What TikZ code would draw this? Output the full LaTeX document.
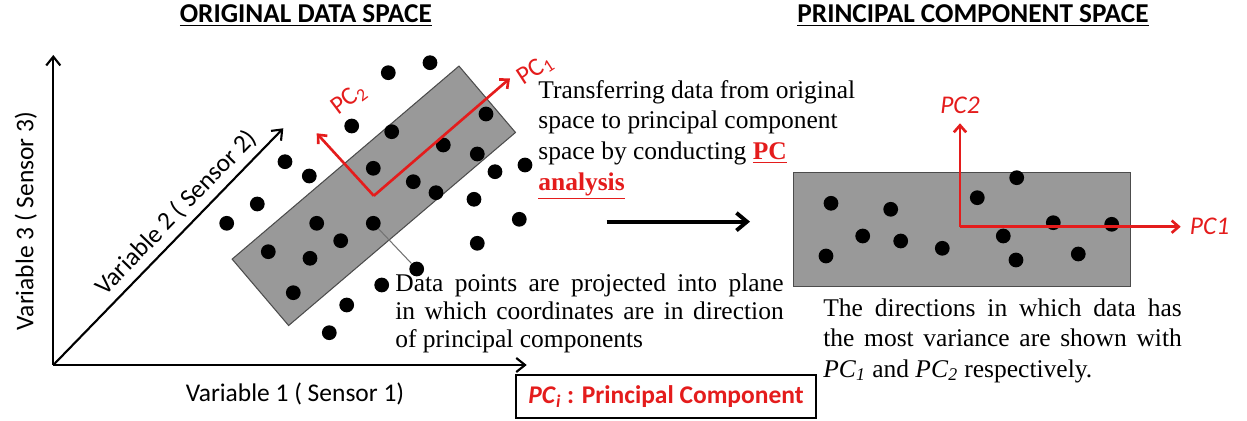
\documentclass[tikz,border=0pt]{standalone}
\usepackage{fontspec}
\setmainfont{Liberation Serif}
\setsansfont{Carlito}
\usepackage{xcolor}
\usepackage{tikz}
\usetikzlibrary{positioning,calc,arrows.meta}
\definecolor{pcred}{RGB}{228,28,28}

\begin{document}
\begin{tikzpicture}[x=0.2mm, y=-0.2mm,
    dot/.style={circle, fill=black, inner sep=0pt, minimum size=8.4pt},
    axis/.style={line width=1.2pt, -{Straight Barb[length=5pt,width=8pt]}},
    pcarrow/.style={pcred, line width=1.5pt, -{Straight Barb[length=4pt,width=7pt]}},
    plane/.style={draw=black!70, fill=black!40, line width=0.6pt},
    pclabel/.style={text=pcred, inner sep=2pt, font=\sffamily\fontsize{14.5}{17}\selectfont},
    title/.style={anchor=base, font=\sffamily\bfseries\fontsize{15.5}{18}\selectfont},
    varlabel/.style={font=\sffamily\fontsize{14.5}{17}\selectfont},
    note/.style={align=left, inner sep=0pt, anchor=north west, font=\fontsize{14.5}{17.4}\selectfont}]

    \useasboundingbox (0,0) rectangle (1247,421);

    % Titles
    \node[title] (tleft) at (305.8,23) {\underline{ORIGINAL DATA SPACE}};
    \node[title] (tright) at (973,23) {\underline{PRINCIPAL COMPONENT SPACE}};

    % Axes of the original space
    \coordinate (o) at (53.3,365);
    \coordinate (v1) at (526.7,365);
    \coordinate (v2) at (283.3,128.3);
    \coordinate (v3) at (53.3,55);
    \draw[axis] (o) -- (v1);
    \draw[axis] (o) -- (v3);
    \draw[axis] (o) -- (v2) node[varlabel, pos=0.59, sloped, above] (v2lab) {Variable 2 ( Sensor 2)};
    \node[varlabel, anchor=base] (v1lab) at (295,401.7) {Variable 1 ( Sensor 1)};
    \node[varlabel, anchor=base, rotate=90] (v3lab) at (33.3,221) {Variable 3 ( Sensor 3)};

    % Projection plane
    \node[plane, minimum width=169.5pt, minimum height=49.6pt, rotate=40.4] (plane) at (373.8,195.8) {};

    % Data points
    \foreach \px/\py [count=\i] in {430/62.7, 388.3/72.7, 486/114, 351.7/126, 391.7/131.7,
        443.3/145, 477.3/154, 285/161.7, 373.3/168.3, 525/165, 495/171.7, 309.3/176,
        413.3/181.7, 436/192.7, 257.3/204, 474/199.3, 226.7/223.3, 316.7/223.3,
        373.3/223.3, 519.3/219.3, 340.7/240.7, 477.3/243.3, 268.3/251.7, 310/258.3,
        416.7/269, 381.7/285, 293.3/292.7, 346.7/305, 329.3/332.7} {
        \node[dot] (d\i) at (\px,\py) {};
    }
    \draw[black!55, line width=0.6pt] (d19) -- (d25);

    % Principal axes in the original space
    \coordinate (pc1tip) at (510,78.3);
    \coordinate (pc2tip) at (316.7,133.3);
    \draw[pcarrow] (plane.center) -- (pc1tip);
    \draw[pcarrow] (plane.center) -- (pc2tip);
    \node[pclabel, rotate=33] (pc1lab) at (535.6,70) {PC\textsubscript{1}};
    \node[pclabel, rotate=37] (pc2lab) at (349,99) {PC\textsubscript{2}};

    % Notes
    \node[note] (transfer) at (538,80) {Transferring data from original\\
        space to principal component\\
        space by conducting {\color{pcred}\underline{\textbf{PC}}}\\
        {\color{pcred}\underline{\textbf{analysis}}}};
    \node[note, font=\fontsize{14.5}{16.2}\selectfont] (project) at (395,273)
        {\makebox[221pt][s]{Data points are projected into plane}\\
        \makebox[221pt][s]{in which coordinates are in direction}\\
        of principal components};

    % Transfer arrow
    \coordinate (ta) at (606.7,221.7);
    \coordinate (tb) at (750,221.7);
    \draw[line width=2.2pt, -{Straight Barb[length=6pt,width=10pt]}] (ta) -- (tb);

    % Principal component space
    \node[plane, minimum width=191.5pt, minimum height=65.2pt, anchor=north west] (pcspace) at (793,171.7) {};
    \foreach \px/\py [count=\i] in {831/203.3, 890.7/209.3, 977.3/197.7, 1016.7/177.7,
        862.7/236, 900.7/241, 1053.3/222.7, 1111.7/224.3, 1003.3/236, 826/256,
        942.3/248.3, 1016/260, 1078.3/254} {
        \node[dot] (e\i) at (\px,\py) {};
    }
    \coordinate (po) at (960,226.7);
    \coordinate (pc1r) at (1180.7,226.7);
    \coordinate (pc2r) at (960,123.3);
    \draw[pcarrow] (po) -- (pc1r);
    \draw[pcarrow] (po) -- (pc2r);
    \node[pclabel, font=\sffamily\itshape\fontsize{14.5}{17}\selectfont, right=3pt of pc1r] (pc1rlab) {PC1};
    \node[pclabel, font=\sffamily\itshape\fontsize{14.5}{17}\selectfont, above=3.5pt of pc2r] (pc2rlab) {PC2};

    \node[note, font=\fontsize{14.5}{17.4}\selectfont] (variance) at (823,298)
        {\makebox[204pt][s]{The directions in which data has}\\
        \makebox[204pt][s]{the most variance are shown with}\\
        \textit{PC}\textsubscript{\textit{1}} and \textit{PC}\textsubscript{\textit{2}} respectively.};

    % Legend box
    \node[draw, line width=0.9pt, minimum width=171pt, minimum height=24.4pt, text=pcred,
        font=\sffamily\bfseries\fontsize{14.5}{17}\selectfont] (legend) at (666,396.5)
        {\textit{PC}\textsubscript{\textit{i}} : Principal Component};
\end{tikzpicture}
\end{document}
